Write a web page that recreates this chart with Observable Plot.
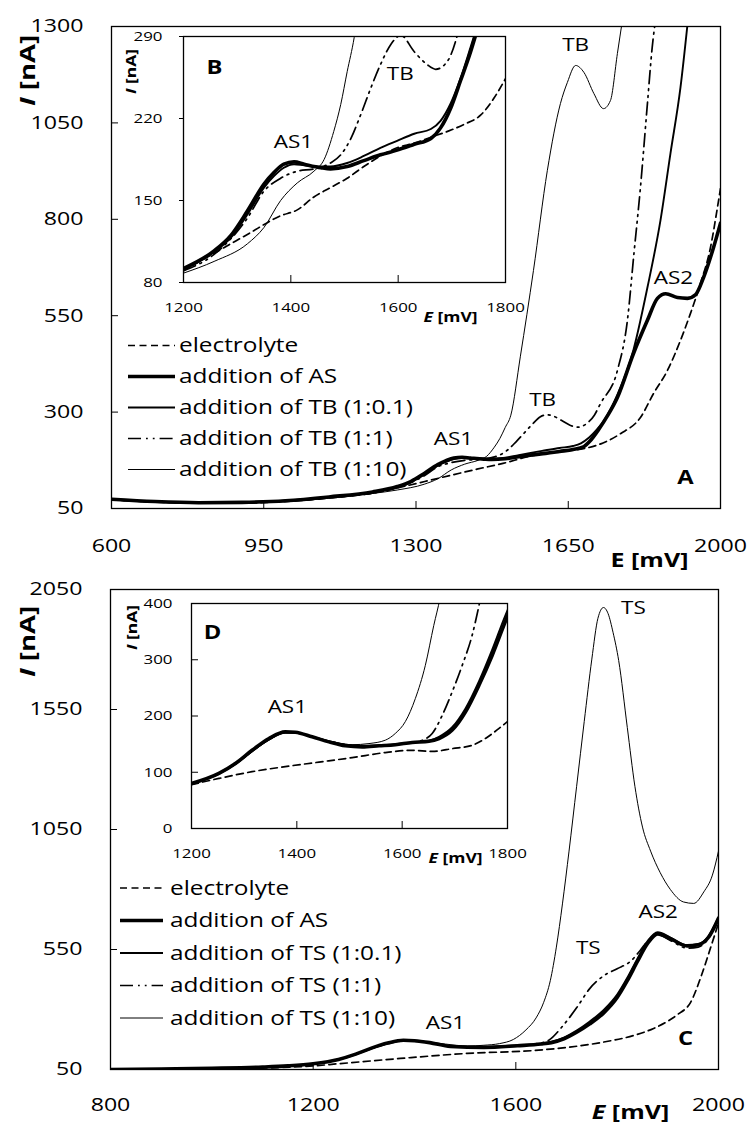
<!DOCTYPE html>
<html><head><meta charset="utf-8">
<script src="https://cdn.jsdelivr.net/npm/d3@7"></script>
<script src="https://cdn.jsdelivr.net/npm/@observablehq/plot@0.6"></script>
<style>
body{margin:0;background:#fff;}
#root{position:relative;width:750px;height:1129px;font-family:"Open Sans",sans-serif;overflow:hidden;}
</style></head><body><div id="root"></div>
<script>
// ---------------- DATA: panel A (main, electrolyte / AS / TB) ----------------
const topElectrolyte = [[600,73],[700,67],[800,64],[900,64],[1000,68],[1100,77],[1200,90],[1260,104],[1320,120],[1380,136],[1440,152],[1500,167],[1560,185],[1620,197],[1685,205],[1730,220],[1770,244],[1816,286],[1846,348],[1878,408],[1908,486],[1931,556],[1954,634],[1977,727],[1993,831],[2000,880]];
const topAS = [[600,74],[700,68],[800,65],[900,66],[1000,70],[1100,80],[1200,93],[1257,107],[1288,120],[1319,141],[1350,164],[1369,174],[1387,181],[1406,183],[1425,181],[1456,178],[1474,177],[1505,179],[1536,184],[1567,189],[1598,193],[1630,198],[1661,203],[1685,210],[1700,225],[1720,255],[1740,290],[1763,338],[1800,452],[1832,538],[1855,595],[1874,607],[1901,597],[1924,595],[1943,605],[1961,649],[1984,727],[2000,790]];
const topTB01 = [[600,73],[700,67],[800,65],[900,66],[1000,70],[1100,79],[1200,92],[1257,106],[1288,118],[1319,138],[1350,161],[1369,171],[1387,178],[1406,181],[1425,180],[1456,179],[1474,179],[1505,182],[1536,188],[1567,195],[1598,201],[1630,207],[1661,212],[1679,219],[1698,234],[1716,255],[1735,283],[1763,345],[1800,462],[1832,623],[1862,797],[1885,971],[1908,1142],[1925,1315]];
const topTB1 = [[600,73],[700,67],[800,64],[900,65],[1000,69],[1100,78],[1200,90],[1257,104],[1319,135],[1350,158],[1381,169],[1412,175],[1443,177],[1474,182],[1493,189],[1512,203],[1530,223],[1549,246],[1567,268],[1586,288],[1600,293],[1615,290],[1635,278],[1654,266],[1672,261],[1692,270],[1710,292],[1724,322],[1763,408],[1786,538],[1801,711],[1816,883],[1832,1100],[1843,1246],[1851,1320]];
const topTB10 = [[600,72],[700,66],[800,64],[900,64],[1000,68],[1100,77],[1200,89],[1257,98],[1319,113],[1350,127],[1381,150],[1412,165],[1443,175],[1462,185],[1480,209],[1493,232],[1505,260],[1518,292],[1540,445],[1570,667],[1602,927],[1632,1100],[1648,1155],[1667,1199],[1686,1181],[1709,1126],[1731,1087],[1747,1108],[1763,1230],[1775,1320]];
// inset B
const bElectrolyte = [[1200,90],[1257,105],[1319,121],[1381,137],[1412,142],[1443,153],[1474,161],[1505,169],[1536,179],[1567,188],[1598,195],[1630,199],[1661,204],[1692,209],[1723,215],[1754,223],[1778,237],[1800,254]];
const bAS = [[1200,92],[1257,107],[1288,120],[1319,141],[1350,164],[1369,174],[1387,181],[1406,183],[1425,181],[1456,178],[1474,177],[1505,179],[1536,184],[1567,189],[1598,193],[1630,198],[1661,203],[1679,212],[1698,229],[1716,252],[1735,277],[1750,300]];
const bTB01 = [[1200,91],[1257,106],[1288,118],[1319,138],[1350,161],[1369,171],[1387,178],[1406,181],[1425,180],[1456,179],[1474,179],[1505,182],[1536,188],[1567,195],[1598,201],[1630,207],[1661,211],[1679,218],[1698,233],[1716,254],[1735,281],[1748,300]];
const bTB1 = [[1200,90],[1257,104],[1319,135],[1350,158],[1381,169],[1412,175],[1443,177],[1474,182],[1493,189],[1512,203],[1530,223],[1549,246],[1567,266],[1586,283],[1605,291],[1630,277],[1654,266],[1670,262],[1692,269],[1707,286],[1715,300]];
const bTB10 = [[1200,88],[1257,98],[1319,113],[1350,127],[1381,150],[1412,165],[1443,175],[1462,185],[1480,209],[1493,232],[1505,260],[1518,289],[1525,310]];
// ---------------- DATA: panel C (main, electrolyte / AS / TS) ----------------
const cElectrolyte = [[800,50],[900,51],[1000,53],[1100,56],[1200,65],[1250,74],[1372,96],[1504,117],[1635,129],[1701,142],[1767,162],[1833,192],[1872,221],[1899,250],[1920,280],[1945,330],[1966,440],[1984,555],[2000,660]];
const cAS = [[800,50],[900,52],[1000,55],[1100,60],[1150,65],[1200,74],[1250,92],[1284,114],[1315,139],[1347,160],[1378,172],[1400,170],[1430,162],[1471,146],[1537,142],[1603,149],[1650,156],[1670,162],[1695,178],[1720,205],[1746,240],[1773,285],[1800,350],[1820,420],[1840,500],[1860,575],[1880,615],[1905,595],[1938,565],[1960,570],[1980,600],[2000,680]];
const cTS01 = [[800,50],[900,52],[1000,55],[1100,60],[1150,65],[1200,73],[1250,91],[1284,113],[1315,137],[1347,158],[1378,170],[1400,169],[1430,162],[1471,148],[1537,144],[1603,151],[1650,158],[1670,165],[1695,183],[1720,212],[1746,250],[1773,297],[1800,362],[1820,432],[1840,512],[1860,585],[1880,622],[1905,600],[1938,568],[1960,572],[1980,605],[2000,685]];
const cTS1 = [[800,50],[900,52],[1000,55],[1100,60],[1150,65],[1200,74],[1250,92],[1284,114],[1315,139],[1347,160],[1378,172],[1400,170],[1430,162],[1471,146],[1537,142],[1603,150],[1640,157],[1665,172],[1692,230],[1721,310],[1745,385],[1773,440],[1800,470],[1826,500],[1845,545],[1862,590],[1880,612],[1905,588],[1938,556],[1960,560],[1980,595],[2000,675]];
const cTS10 = [[800,50],[900,52],[1000,55],[1100,60],[1150,65],[1200,73],[1250,91],[1284,112],[1315,136],[1347,157],[1378,170],[1400,170],[1430,164],[1461,156],[1505,148],[1537,151],[1568,158],[1595,175],[1620,215],[1640,265],[1655,330],[1668,420],[1680,560],[1692,740],[1705,960],[1720,1230],[1735,1500],[1750,1760],[1762,1930],[1773,1975],[1782,1950],[1792,1870],[1803,1754],[1820,1475],[1835,1230],[1850,1060],[1866,960],[1885,870],[1905,800],[1931,748],[1951,742],[1971,790],[1988,860],[2000,960]];
// inset D
const dElectrolyte = [[1200,78],[1252,89],[1315,101],[1378,110],[1442,118],[1505,126],[1568,135],[1619,139],[1657,137],[1695,142],[1733,148],[1758,160],[1784,178],[1800,190]];
const dAS = [[1200,80],[1252,98],[1284,116],[1315,139],[1347,160],[1378,172],[1397,171],[1429,163],[1461,154],[1492,147],[1524,145],[1556,147],[1587,149],[1619,153],[1651,155],[1670,160],[1695,175],[1720,207],[1746,255],[1771,308],[1793,361],[1803,385]];
const dTS01 = [[1200,80],[1252,97],[1284,115],[1315,138],[1347,158],[1378,170],[1397,170],[1429,163],[1461,155],[1492,149],[1524,147],[1556,148],[1587,150],[1619,153],[1651,156],[1670,163],[1695,180],[1720,213],[1746,262],[1771,318],[1793,372],[1803,395]];
const dTS1 = [[1200,80],[1252,98],[1284,116],[1315,139],[1347,160],[1378,172],[1397,171],[1429,163],[1461,154],[1492,147],[1524,145],[1556,147],[1587,149],[1619,153],[1632,155],[1657,169],[1676,201],[1695,243],[1714,290],[1733,344],[1746,397],[1750,415]];
const dTS10 = [[1200,79],[1252,97],[1284,114],[1315,136],[1347,157],[1378,170],[1397,170],[1429,164],[1461,156],[1492,150],[1505,149],[1537,151],[1568,157],[1587,169],[1606,190],[1625,231],[1644,290],[1660,361],[1672,410],[1676,430]];

// ticks
const topXTicks = [600,950,1300,1650,2000];
const topYTicks = [50,300,550,800,1050,1300];
const botXTicks = [800,1200,1600,2000];
const botYTicks = [50,550,1050,1550,2050];
const insetXTicks = [1200,1400,1600,1800];
const bYTicks = [80,150,220,290];
const dYTicks = [0,100,200,300,400];

// legends
const topLegend = ["electrolyte","addition of AS","addition of TB (1:0.1)","addition of TB (1:1)","addition of TB (1:10)"];
const botLegend = ["electrolyte","addition of AS","addition of TS (1:0.1)","addition of TS (1:1)","addition of TS (1:10)"];

// annotations
const aAnnE = [1386,1591,1667,1892], aAnnI = [229,330,1251,646], aAnnT = ["AS1","TB","TB","AS2"];
const bAnnE = [1405,1604], bAnnI = [199.5,258], bAnnT = ["AS1","TB"];
const cAnnE = [1832,1881,1743,1461], cAnnI = [1971,704,554,242], cAnnT = ["TS","AS2","TS","AS1"];
const dAnnE = [1382], dAnnI = [215], dAnnT = ["AS1"];

// ---------------- STYLES ----------------
const lineStyles = [
  {strokeWidth: 1.7, strokeDasharray: "7,4.5"},
  {strokeWidth: 3.6},
  {strokeWidth: 1.9},
  {strokeWidth: 1.7, strokeDasharray: "13,5,1.8,5,1.8,5"},
  {strokeWidth: 1}
];
const drawOrder = [0,4,3,1,2];
const STRETCH = 1.25;
const FONT = "'Open Sans', sans-serif";

const toRows = pairs => pairs.map(([E,I]) => ({E, I}));
const annRows = (E, I, T) => T.map((t,i) => ({E:E[i], I:I[i], label:t}));
const fmt = d => String(d);

function makePlot(c){
  const marks = [];
  if (c.inset) marks.push(Plot.frame({fill:"#fff"}));
  drawOrder.forEach(i => marks.push(Plot.line(toRows(c.series[i]), {x:"E", y:"I", stroke:"#000", curve:"monotone-x", clip:true, ...lineStyles[i]})));
  marks.push(Plot.frame({stroke:"#000", strokeWidth:1.3}));
  marks.push(Plot.axisX(c.xTicks, {tickSize:c.xts, tickPadding:c.xpad, tickFormat:fmt, label:null, fontSize:c.fs}));
  marks.push(Plot.axisY(c.yTicks, {tickSize:c.yts, tickPadding:c.ypad, tickFormat:fmt, label:null, fontSize:c.fs}));
  marks.push(Plot.text(c.ann, {x:"E", y:"I", text:"label", fontSize:18, fill:"#000"}));
  const mid = {textAnchor:"middle", lineAnchor:"middle", fill:"#000", fontWeight:"bold"};
  marks.push(Plot.text(["E [mV]"], {text:d=>d, frameAnchor:"bottom-right", dx:c.xl[0], dy:c.xl[1], fontSize:c.lfs, ...mid}));
  marks.push(Plot.text(["I [nA]"], {text:d=>d, frameAnchor:"top-left", dx:c.yl[0], dy:c.yl[1], rotate:-90, fontSize:c.ylfs, ...mid}));
  marks.push(Plot.text([c.letter], {text:d=>d, frameAnchor:c.letterAnchor, dx:c.lt[0], dy:c.lt[1], fontSize:19, ...mid}));
  return Plot.plot({
    width:c.w, height:c.h,
    marginTop:c.m[0], marginRight:c.m[1], marginBottom:c.m[2], marginLeft:c.m[3],
    x:{domain:c.xd, axis:null}, y:{domain:c.yd, axis:null},
    style:{fontFamily:FONT, fontSize:"18px", background:"transparent", color:"#000", overflow:"visible"},
    marks
  });
}

function stretchText(svg, k){
  d3.select(svg).selectAll("text").each(function(){
    const x = +(this.getAttribute("x")||0), y = +(this.getAttribute("y")||0);
    let t = this.getAttribute("transform")||"";
    if (x || y){ this.removeAttribute("x"); this.removeAttribute("y"); t += ` translate(${x},${y})`; }
    this.setAttribute("transform", (t + ` scale(${k},1)`).trim());
  });
}
function italicize(svg, list){
  d3.select(svg).selectAll("text").each(function(){
    const s = this.textContent;
    if (list.includes(s)){
      const el = d3.select(this); el.text(null);
      el.append("tspan").attr("font-style","italic").text(s[0]);
      el.append("tspan").text(s.slice(1));
    }
  });
}

const root = document.getElementById("root");
function place(el, left, top){
  el.style.position = "absolute"; el.style.left = left+"px"; el.style.top = top+"px";
  root.appendChild(el);
}

const plotA = makePlot({w:750,h:575,m:[26,30,67,111],xd:[600,2000],yd:[50,1300],
  series:[topElectrolyte,topAS,topTB01,topTB1,topTB10], xTicks:topXTicks, yTicks:topYTicks,
  xts:-7,xpad:37,yts:-7,ypad:35,fs:18.5, ann:annRows(aAnnE,aAnnI,aAnnT),
  xl:[-71,52], yl:[-84,44], lfs:20, ylfs:22, letter:"A", letterAnchor:"bottom-right", lt:[-35,-31]});
italicize(plotA, ["I [nA]"]);
const plotC = makePlot({w:750,h:554,m:[14,32,60,110],xd:[800,2000],yd:[50,2050],
  series:[cElectrolyte,cAS,cTS01,cTS1,cTS10], xTicks:botXTicks, yTicks:botYTicks,
  xts:-7,xpad:35,yts:-7,ypad:35,fs:18.5, ann:annRows(cAnnE,cAnnI,cAnnT),
  xl:[-88,43], yl:[-83,52], lfs:20, ylfs:22, letter:"C", letterAnchor:"bottom-right", lt:[-33,-31]});
italicize(plotC, ["I [nA]","E [mV]"]);
const plotB = makePlot({inset:true,w:400,h:300,m:[10,15,44,63],xd:[1200,1800],yd:[80,290],
  series:[bElectrolyte,bAS,bTB01,bTB1,bTB10], xTicks:insetXTicks, yTicks:bYTicks,
  xts:-7,xpad:27,yts:4,ypad:17,fs:13.5, ann:annRows(bAnnE,bAnnI,bAnnT),
  xl:[-55,35], yl:[-52,35], lfs:14, ylfs:14, letter:"B", letterAnchor:"top-left", lt:[31,31]});
italicize(plotB, ["I [nA]","E [mV]"]);
const plotD = makePlot({inset:true,w:400,h:280,m:[13,13,42,71],xd:[1200,1800],yd:[0,400],
  series:[dElectrolyte,dAS,dTS01,dTS1,dTS10], xTicks:insetXTicks, yTicks:dYTicks,
  xts:-7,xpad:27,yts:-7,ypad:26,fs:13.5, ann:annRows(dAnnE,dAnnI,dAnnT),
  xl:[-52,30], yl:[-59,24], lfs:14, ylfs:14, letter:"D", letterAnchor:"top-left", lt:[21,29]});
italicize(plotD, ["I [nA]","E [mV]"]);

[plotA, plotB, plotC, plotD].forEach(s => stretchText(s, STRETCH));
place(plotA, 0, 0);
place(plotC, 0, 575);
place(plotB, 120, 26);
place(plotD, 120, 590);

// legends (overlay svg drawn with d3)
const leg = d3.create("svg").attr("width",750).attr("height",1129)
  .style("font-family",FONT).style("pointer-events","none");
function drawLegend(labels, x1, x2, tx, y0, step){
  labels.forEach((lab,i) => {
    const y = y0 + i*step, st = lineStyles[i];
    leg.append("line").attr("x1",x1).attr("x2",x2).attr("y1",y).attr("y2",y)
      .attr("stroke","#000").attr("stroke-width",st.strokeWidth)
      .attr("stroke-dasharray",st.strokeDasharray||null);
    leg.append("text").attr("transform",`translate(${tx},${y}) scale(${STRETCH},1)`)
      .attr("dy","0.35em").attr("font-size",19.5).attr("fill","#000").text(lab);
  });
}
drawLegend(topLegend, 128, 175, 179, 345.5, 31);
drawLegend(botLegend, 120, 163, 170, 888, 32.5);
place(leg.node(), 0, 0);
</script></body></html>
